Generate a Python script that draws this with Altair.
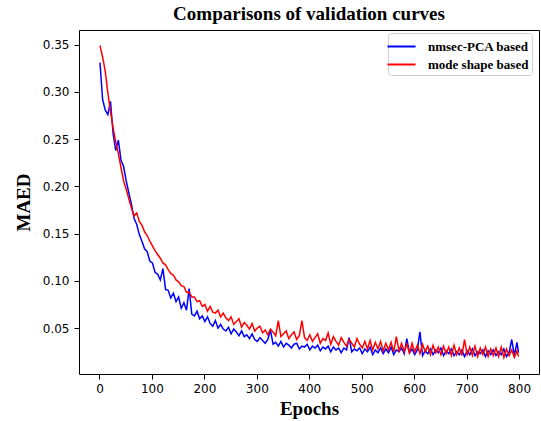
import altair as alt
import pandas as pd

# epochs sampled along the curves
epochs = list(range(1, 800, 5)) + [799]

series_names = ["nmsec-PCA based", "mode shape based"]
series_colors = ["blue", "red"]

nmsec_pca = [
    0.331, 0.292, 0.281, 0.276, 0.290, 0.256, 0.238, 0.249, 0.228, 0.221,
    0.206, 0.193, 0.181, 0.166, 0.160, 0.149, 0.142, 0.134, 0.131, 0.121,
    0.119, 0.109, 0.107, 0.101, 0.113, 0.091, 0.090, 0.082, 0.087, 0.078,
    0.083, 0.071, 0.077, 0.069, 0.092, 0.065, 0.063, 0.068, 0.060, 0.063,
    0.057, 0.062, 0.055, 0.052, 0.058, 0.050, 0.054, 0.049, 0.047, 0.051,
    0.044, 0.049, 0.046, 0.042, 0.047, 0.041, 0.043, 0.039, 0.044, 0.038,
    0.036, 0.040, 0.037, 0.034, 0.038, 0.048, 0.033, 0.035, 0.031, 0.036,
    0.030, 0.034, 0.032, 0.029, 0.033, 0.034, 0.028, 0.031, 0.030, 0.033,
    0.027, 0.031, 0.029, 0.032, 0.026, 0.030, 0.028, 0.031, 0.025, 0.030,
    0.027, 0.029, 0.024, 0.029, 0.027, 0.040, 0.025, 0.028, 0.026, 0.029,
    0.023, 0.028, 0.025, 0.030, 0.022, 0.027, 0.024, 0.029, 0.023, 0.028,
    0.024, 0.030, 0.022, 0.027, 0.025, 0.029, 0.023, 0.039, 0.024, 0.028,
    0.022, 0.027, 0.046, 0.021, 0.026, 0.023, 0.028, 0.022, 0.027, 0.024,
    0.029, 0.021, 0.026, 0.023, 0.028, 0.021, 0.025, 0.022, 0.027, 0.020,
    0.026, 0.022, 0.028, 0.021, 0.025, 0.023, 0.027, 0.020, 0.026, 0.022,
    0.027, 0.021, 0.025, 0.022, 0.028, 0.020, 0.024, 0.038, 0.021, 0.035,
    0.024,
]

mode_shape = [
    0.349, 0.337, 0.322, 0.299, 0.279, 0.262, 0.247, 0.235, 0.220, 0.206,
    0.197, 0.187, 0.177, 0.169, 0.172, 0.163, 0.159, 0.152, 0.148, 0.142,
    0.137, 0.132, 0.128, 0.124, 0.119, 0.117, 0.112, 0.108, 0.106, 0.101,
    0.099, 0.095, 0.094, 0.088, 0.088, 0.083, 0.083, 0.078, 0.079, 0.073,
    0.075, 0.068, 0.073, 0.067, 0.066, 0.069, 0.062, 0.066, 0.061, 0.058,
    0.062, 0.054, 0.057, 0.060, 0.051, 0.056, 0.053, 0.049, 0.055, 0.047,
    0.050, 0.052, 0.045, 0.048, 0.043, 0.049, 0.046, 0.042, 0.058, 0.041,
    0.044, 0.047, 0.039, 0.043, 0.046, 0.038, 0.042, 0.058, 0.040, 0.037,
    0.043, 0.036, 0.040, 0.044, 0.034, 0.039, 0.037, 0.045, 0.033, 0.041,
    0.036, 0.032, 0.040, 0.035, 0.031, 0.038, 0.034, 0.030, 0.039, 0.033,
    0.029, 0.036, 0.028, 0.037, 0.027, 0.035, 0.028, 0.036, 0.026, 0.034,
    0.027, 0.035, 0.025, 0.041, 0.026, 0.034, 0.025, 0.033, 0.024, 0.034,
    0.025, 0.032, 0.023, 0.033, 0.025, 0.031, 0.022, 0.032, 0.024, 0.030,
    0.022, 0.031, 0.023, 0.030, 0.021, 0.032, 0.022, 0.029, 0.021, 0.038,
    0.022, 0.030, 0.021, 0.031, 0.020, 0.029, 0.022, 0.030, 0.020, 0.028,
    0.021, 0.029, 0.020, 0.030, 0.019, 0.028, 0.021, 0.027, 0.019, 0.026,
    0.020,
]

x_ticks = [0, 100, 200, 300, 400, 500, 600, 700, 800]
y_ticks = [0.05, 0.10, 0.15, 0.20, 0.25, 0.30, 0.35]

df = pd.concat([
    pd.DataFrame({"epoch": epochs, "MAED": nmsec_pca, "series": series_names[0]}),
    pd.DataFrame({"epoch": epochs, "MAED": mode_shape, "series": series_names[1]}),
])

x_enc = alt.X("epoch:Q", title="Epochs",
              scale=alt.Scale(domain=[-39, 838], nice=False, zero=False),
              axis=alt.Axis(values=x_ticks, labelPadding=4, titlePadding=5))
y_enc = alt.Y("MAED:Q", title="MAED",
              scale=alt.Scale(domain=[0.0015, 0.3655], nice=False, zero=False),
              axis=alt.Axis(values=y_ticks, format=".2f", labelPadding=5, titlePadding=9))
color_enc = alt.Color("series:N",
                      scale=alt.Scale(domain=series_names, range=series_colors),
                      legend=alt.Legend(title=None, orient="none", legendX=309, legendY=3,
                                        symbolType="M-1.5,0H1.5", symbolSize=350,
                                        symbolStrokeWidth=2, labelFont="Liberation Serif",
                                        labelFontWeight="bold", labelFontSize=13,
                                        labelColor="black", strokeColor="#d0d0d0",
                                        fillColor="white", cornerRadius=3, padding=3,
                                        rowPadding=0, labelOffset=16))

base = alt.Chart(df).mark_line(strokeWidth=1.5).encode(x=x_enc, y=y_enc, color=color_enc)

blue_layer = base.transform_filter(alt.datum.series == series_names[0])
red_layer = base.transform_filter(alt.datum.series == series_names[1])

chart = alt.layer(blue_layer, red_layer).properties(
    width=460, height=344,
    padding={"left": 79, "top": 30, "right": 2, "bottom": 47},
    autosize=alt.AutoSizeParams(type="none"),
    title=alt.TitleParams("Comparisons of validation curves", font="Liberation Serif",
                          fontSize=19, fontWeight="bold", color="black",
                          anchor="middle", offset=6),
).configure_view(stroke="black", strokeWidth=1).configure_axis(
    domain=False, grid=False, tickColor="black", tickSize=5, tickWidth=1,
    labelColor="black", labelFont="DejaVu Sans", labelFontSize=12,
    titleFont="Liberation Serif", titleFontWeight="bold", titleFontSize=19,
    titleColor="black",
)

chart.save("out.html", embed_options={"renderer": "svg", "actions": False})
